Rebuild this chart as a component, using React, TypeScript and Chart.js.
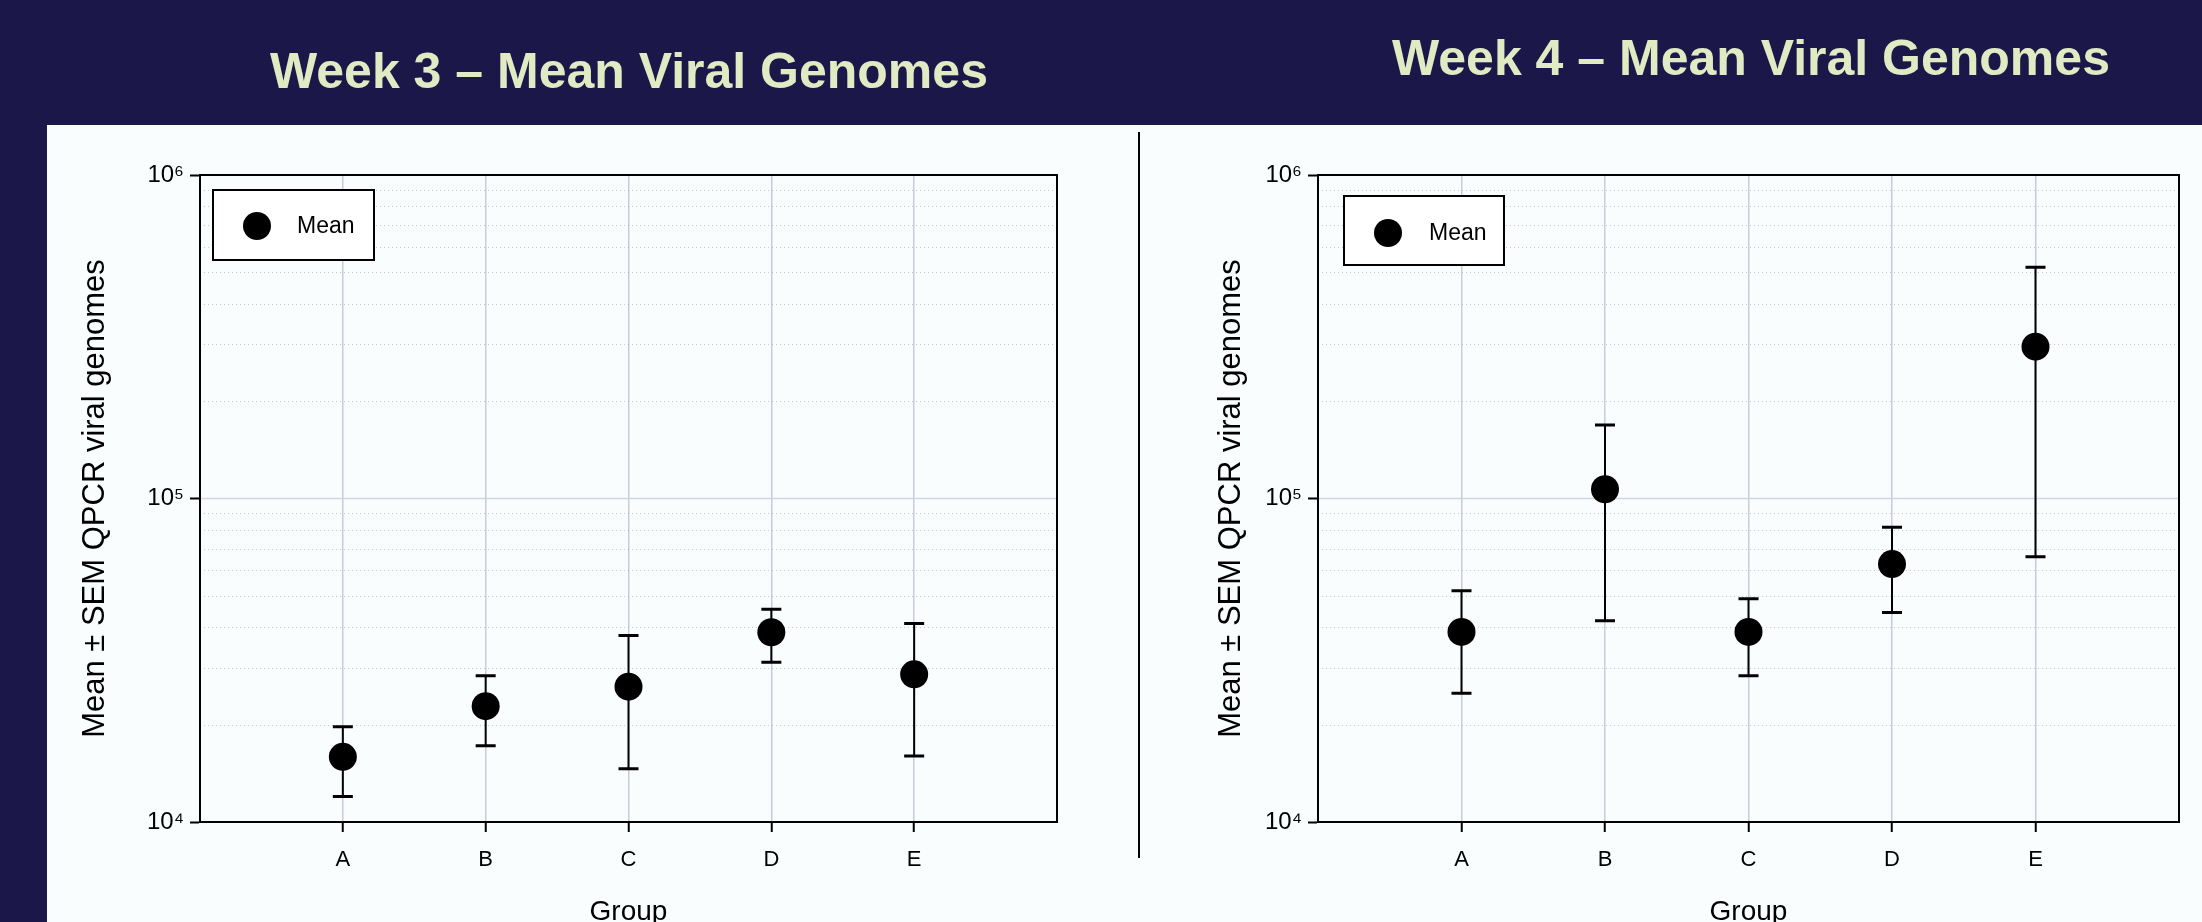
import React, { useEffect, useRef } from 'react';
import { Chart, registerables } from 'chart.js';

Chart.register(...registerables);

// ---------- data ----------
const GROUPS = ['A', 'B', 'C', 'D', 'E'];

const Y_TICK_VALUES = [1e4, 1e5, 1e6];
const Y_TICK_LABELS = ['10⁴', '10⁵', '10⁶'];
const MINOR_MULTIPLIERS = [2, 3, 4, 5, 6, 7, 8, 9];

const WEEK3_MEAN = [15900, 22800, 26200, 38600, 28600];
const WEEK3_LOWER = [12000, 17200, 14600, 31200, 16000];
const WEEK3_UPPER = [19700, 28300, 37700, 45500, 41100];

const WEEK4_MEAN = [38700, 106800, 38700, 62700, 294600];
const WEEK4_LOWER = [25000, 41900, 28300, 44400, 66100];
const WEEK4_UPPER = [51900, 168700, 49000, 81500, 518300];

const TITLE_W3 = 'Week 3 – Mean Viral Genomes';
const TITLE_W4 = 'Week 4 – Mean Viral Genomes';
const Y_TITLE = 'Mean ± SEM QPCR viral genomes';
const X_TITLE = 'Group';
const LEGEND_LABEL = 'Mean';

const FONT = '"Liberation Sans", Arial, Helvetica, sans-serif';

type LegendPos = { dx: number; dy: number; w: number; h: number; mx: number; my: number; tx: number };

function makeExtras(lower: number[], upper: number[], legend: LegendPos) {
  return {
    id: 'extras',
    beforeDatasetsDraw(chart: any) {
      const { ctx, chartArea: a, scales } = chart;
      const y = scales.y;
      const x = scales.x;
      ctx.save();
      ctx.beginPath();
      ctx.rect(a.left, a.top, a.right - a.left, a.bottom - a.top);
      ctx.clip();
      // minor dotted grid
      ctx.lineWidth = 1;
      ctx.strokeStyle = 'rgba(120,120,150,0.4)';
      ctx.setLineDash([1, 3]);
      for (let d = 0; d < Y_TICK_VALUES.length - 1; d++) {
        for (const m of MINOR_MULTIPLIERS) {
          const py = Math.round(y.getPixelForValue(Y_TICK_VALUES[d] * m)) + 0.5;
          ctx.beginPath();
          ctx.moveTo(a.left, py);
          ctx.lineTo(a.right, py);
          ctx.stroke();
        }
      }
      // decade lines
      ctx.setLineDash([]);
      ctx.strokeStyle = '#D2D5E2';
      ctx.lineWidth = 1.5;
      for (const v of Y_TICK_VALUES) {
        const py = y.getPixelForValue(v);
        ctx.beginPath();
        ctx.moveTo(a.left, py);
        ctx.lineTo(a.right, py);
        ctx.stroke();
      }
      ctx.restore();

      // error bars
      ctx.save();
      ctx.strokeStyle = '#000';
      lower.forEach((lo, i) => {
        const px = x.getPixelForValue(i + 1);
        const p1 = y.getPixelForValue(lo);
        const p2 = y.getPixelForValue(upper[i]);
        ctx.lineWidth = 2;
        ctx.beginPath();
        ctx.moveTo(px, p1);
        ctx.lineTo(px, p2);
        ctx.stroke();
        ctx.lineWidth = 3;
        ctx.beginPath();
        ctx.moveTo(px - 10, p1);
        ctx.lineTo(px + 10, p1);
        ctx.moveTo(px - 10, p2);
        ctx.lineTo(px + 10, p2);
        ctx.stroke();
      });

      // legend box
      const bx = a.left + legend.dx;
      const by = a.top + legend.dy;
      ctx.fillStyle = '#FFFFFF';
      ctx.fillRect(bx, by, legend.w, legend.h);
      ctx.lineWidth = 2;
      ctx.strokeStyle = '#000';
      ctx.strokeRect(bx, by, legend.w, legend.h);
      ctx.fillStyle = '#000';
      ctx.beginPath();
      ctx.arc(bx + legend.mx, by + legend.my, 14, 0, Math.PI * 2);
      ctx.fill();
      ctx.font = `23px ${FONT}`;
      ctx.textAlign = 'left';
      ctx.textBaseline = 'middle';
      ctx.fillText(LEGEND_LABEL, bx + legend.tx, by + legend.my + 1);
      ctx.restore();
    },
    afterDraw(chart: any) {
      const { ctx, chartArea: a } = chart;
      ctx.save();
      ctx.strokeStyle = '#000';
      ctx.lineWidth = 2;
      ctx.strokeRect(a.left, a.top, a.right - a.left, a.bottom - a.top);
      ctx.restore();
    },
  };
}

type PanelProps = {
  mean: number[];
  lower: number[];
  upper: number[];
  legend: LegendPos;
  width: number;
  height: number;
  yAxisWidth: number;
  padRight: number;
  yTitlePad: number;
  left: number;
  top: number;
};

function ChartPanel(p: PanelProps) {
  const ref = useRef<HTMLCanvasElement | null>(null);
  useEffect(() => {
    if (!ref.current) return;
    const chart = new Chart(ref.current, {
      type: 'scatter',
      data: {
        datasets: [
          {
            label: LEGEND_LABEL,
            data: p.mean.map((m, i) => ({ x: i + 1, y: m })),
            backgroundColor: '#000',
            borderColor: '#000',
            borderWidth: 0,
            pointRadius: 14,
            pointHoverRadius: 14,
          },
        ],
      },
      options: {
        animation: false,
        responsive: false,
        devicePixelRatio: 1,
        layout: { padding: { top: 50, right: p.padRight, left: 0, bottom: 0 } },
        plugins: { legend: { display: false }, tooltip: { enabled: false }, title: { display: false } },
        scales: {
          x: {
            type: 'linear',
            min: 0,
            max: GROUPS.length + 1,
            afterBuildTicks: (s: any) => {
              s.ticks = GROUPS.map((_, i) => ({ value: i + 1 }));
            },
            afterFit: (s: any) => {
              s.height = 113;
            },
            ticks: {
              autoSkip: false,
              maxRotation: 0,
              padding: 15,
              color: '#000',
              font: { family: FONT, size: 22 },
              callback: (v: any) => GROUPS[Number(v) - 1] ?? '',
            },
            grid: { color: '#C8CBDA', lineWidth: 1.5, tickColor: '#000', tickWidth: 2, tickLength: 10 },
            border: { color: '#000', width: 2 },
            title: {
              display: true,
              text: X_TITLE,
              color: '#000',
              font: { family: FONT, size: 28, lineHeight: 1.2 },
              padding: { top: 0, bottom: 6 },
            },
          },
          y: {
            type: 'logarithmic',
            min: Y_TICK_VALUES[0],
            max: Y_TICK_VALUES[Y_TICK_VALUES.length - 1],
            afterBuildTicks: (s: any) => {
              s.ticks = Y_TICK_VALUES.map((v) => ({ value: v, major: true }));
            },
            afterFit: (s: any) => {
              s.width = p.yAxisWidth;
            },
            ticks: {
              autoSkip: false,
              padding: 6,
              color: '#000',
              font: { family: FONT, size: 24 },
              callback: (_v: any, i: number) => Y_TICK_LABELS[i],
            },
            grid: { drawOnChartArea: false, tickColor: '#000', tickWidth: 2, tickLength: 10 },
            border: { color: '#000', width: 2 },
            title: {
              display: true,
              text: Y_TITLE,
              color: '#000',
              font: { family: FONT, size: 31, lineHeight: 1.2 },
              padding: { top: p.yTitlePad, bottom: 0 },
            },
          },
        },
      },
      plugins: [makeExtras(p.lower, p.upper, p.legend)],
    } as any);
    return () => chart.destroy();
  }, []);
  return (
    <canvas
      ref={ref}
      width={p.width}
      height={p.height}
      style={{ position: 'absolute', left: p.left, top: p.top, width: p.width, height: p.height }}
    />
  );
}

const titleStyle: React.CSSProperties = {
  position: 'absolute',
  fontFamily: FONT,
  fontWeight: 'bold',
  fontSize: 50,
  lineHeight: '50px',
  color: '#E1EAC3',
  whiteSpace: 'nowrap',
};

export default function App() {
  useEffect(() => {
    document.body.style.margin = '0';
  }, []);
  return (
    <div
      style={{
        position: 'absolute',
        left: 0,
        top: 0,
        width: 2202,
        height: 922,
        overflow: 'hidden',
        background: '#1B1849',
      }}
    >
      <div style={{ position: 'absolute', left: 47, top: 125, width: 2155, height: 797, background: '#FAFDFE' }} />
      <div style={{ ...titleStyle, left: 270, top: 46 }}>{TITLE_W3}</div>
      <div style={{ ...titleStyle, left: 1392, top: 33 }}>{TITLE_W4}</div>
      <div style={{ position: 'absolute', left: 1138, top: 132, width: 2, height: 726, background: '#000' }} />
      <ChartPanel
        mean={WEEK3_MEAN}
        lower={WEEK3_LOWER}
        upper={WEEK3_UPPER}
        legend={{ dx: 13, dy: 15, w: 161, h: 70, mx: 44, my: 36, tx: 84 }}
        width={1090}
        height={810}
        yAxisWidth={153}
        padRight={80}
        yTitlePad={30}
        left={47}
        top={125}
      />
      <ChartPanel
        mean={WEEK4_MEAN}
        lower={WEEK4_LOWER}
        upper={WEEK4_UPPER}
        legend={{ dx: 26, dy: 21, w: 160, h: 69, mx: 44, my: 37, tx: 85 }}
        width={1061}
        height={810}
        yAxisWidth={177}
        padRight={23}
        yTitlePad={72}
        left={1141}
        top={125}
      />
    </div>
  );
}
